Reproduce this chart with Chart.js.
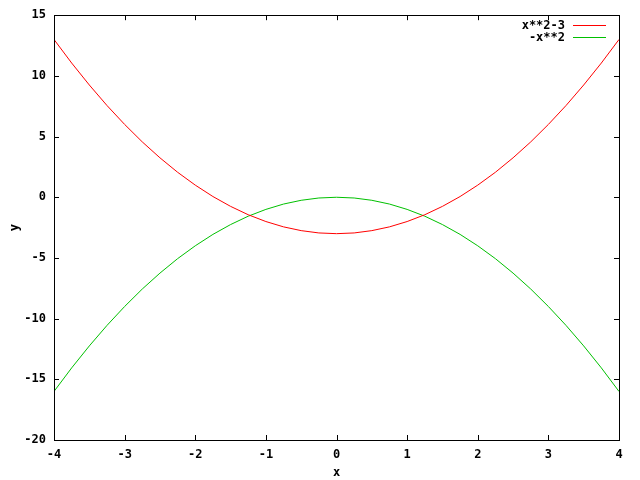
<!DOCTYPE html>
<html>
<head>
<meta charset="utf-8">
<script src="https://cdn.jsdelivr.net/npm/chart.js@4/dist/chart.umd.min.js"></script>
<style>
  html, body { margin: 0; padding: 0; background: #fff; }
  #wrap { width: 640px; height: 480px; }
</style>
</head>
<body>
<div id="wrap"><canvas id="plot"></canvas></div>
<script>
// sample points
const xValues = [-4, -3.75, -3.5, -3.25, -3, -2.75, -2.5, -2.25, -2, -1.75, -1.5, -1.25, -1, -0.75, -0.5, -0.25,
                 0, 0.25, 0.5, 0.75, 1, 1.25, 1.5, 1.75, 2, 2.25, 2.5, 2.75, 3, 3.25, 3.5, 3.75, 4];
const redValues = [13, 11.06, 9.25, 7.56, 6, 4.56, 3.25, 2.06, 1, 0.06, -0.75, -1.44, -2, -2.44, -2.75, -2.94,
                   -3, -2.94, -2.75, -2.44, -2, -1.44, -0.75, 0.06, 1, 2.06, 3.25, 4.56, 6, 7.56, 9.25, 11.06, 13];
const greenValues = [-16, -14.06, -12.25, -10.56, -9, -7.56, -6.25, -5.06, -4, -3.06, -2.25, -1.56, -1, -0.56, -0.25, -0.06,
                     0, -0.06, -0.25, -0.56, -1, -1.56, -2.25, -3.06, -4, -5.06, -6.25, -7.56, -9, -10.56, -12.25, -14.06, -16];
const seriesLabels = ['x**2-3', '-x**2'];
const seriesColors = ['#ff0000', '#00c000'];

const FONT = { family: '"DejaVu Sans Mono", monospace', size: 12, weight: 'bold' };

// gnuplot style frame: box, inward ticks on all sides, legend in top right
const framePlugin = {
    id: 'frame',
    afterDatasetsDraw(chart) {
        const { ctx, chartArea: a, scales } = chart;
        ctx.save();
        ctx.strokeStyle = '#000';
        ctx.lineWidth = 1;
        ctx.strokeRect(Math.round(a.left) + 0.5, Math.round(a.top) + 0.5,
                       Math.round(a.right - a.left), Math.round(a.bottom - a.top));
        ctx.beginPath();
        scales.x.ticks.forEach(t => {
            const px = Math.round(scales.x.getPixelForValue(t.value)) + 0.5;
            ctx.moveTo(px, a.bottom); ctx.lineTo(px, a.bottom - 5);
            ctx.moveTo(px, a.top); ctx.lineTo(px, a.top + 5);
        });
        scales.y.ticks.forEach(t => {
            const py = Math.round(scales.y.getPixelForValue(t.value)) + 0.5;
            ctx.moveTo(a.left, py); ctx.lineTo(a.left + 5, py);
            ctx.moveTo(a.right, py); ctx.lineTo(a.right - 5, py);
        });
        ctx.stroke();

        // legend
        ctx.font = `${FONT.weight} ${FONT.size}px ${FONT.family}`;
        ctx.textAlign = 'right';
        ctx.textBaseline = 'middle';
        seriesLabels.forEach((label, i) => {
            const y = Math.round(a.top + 10 + i * 12);
            ctx.fillStyle = '#000';
            ctx.fillText(label, a.right - 54, y + 0.5);
            ctx.fillStyle = seriesColors[i];
            ctx.fillRect(Math.round(a.right - 46), y, 33, 1);
        });
        ctx.restore();
    }
};

new Chart(document.getElementById('plot'), {
    type: 'scatter',
    data: {
        datasets: [
            {
                label: seriesLabels[0],
                data: xValues.map((x, i) => ({ x: x, y: redValues[i] })),
                showLine: true,
                borderColor: seriesColors[0],
                borderWidth: 1,
                pointRadius: 0,
                tension: 0
            },
            {
                label: seriesLabels[1],
                data: xValues.map((x, i) => ({ x: x, y: greenValues[i] })),
                showLine: true,
                borderColor: seriesColors[1],
                borderWidth: 1,
                pointRadius: 0,
                tension: 0
            }
        ]
    },
    options: {
        responsive: true,
        maintainAspectRatio: false,
        animation: false,
        layout: { padding: { top: 14, right: 21, left: 0, bottom: 0 } },
        plugins: {
            legend: { display: false },
            tooltip: { enabled: false }
        },
        scales: {
            x: {
                type: 'linear',
                min: -4,
                max: 4,
                grid: { display: false, drawTicks: false },
                border: { display: false },
                ticks: { stepSize: 1, color: '#000', font: FONT, padding: 8 },
                title: { display: true, text: 'x', color: '#000', font: FONT, padding: { top: 4, bottom: 0 } },
                afterFit(scale) { scale.height = 40; }
            },
            y: {
                min: -20,
                max: 15,
                grid: { display: false, drawTicks: false },
                border: { display: false },
                ticks: { stepSize: 5, color: '#000', font: FONT, padding: 8 },
                title: { display: true, text: 'y', color: '#000', font: FONT, padding: { top: 8, bottom: 0 } },
                afterFit(scale) { scale.width = 54; }
            }
        }
    },
    plugins: [framePlugin]
});
</script>
</body>
</html>
